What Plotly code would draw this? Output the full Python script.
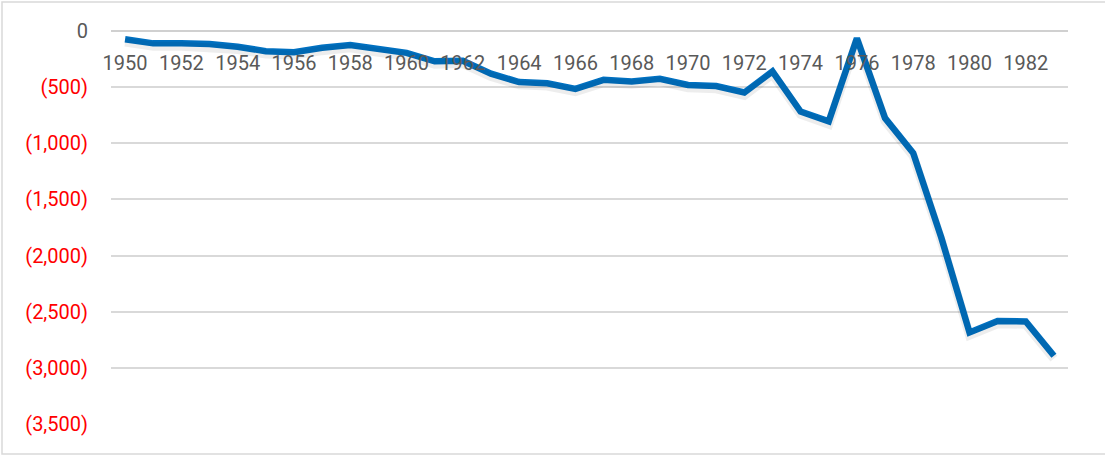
import plotly.graph_objects as go

years = list(range(1950, 1984))
values = [
    -74, -110, -110, -115, -140, -180, -190, -150, -125, -165,
    -195, -270, -265, -380, -455, -465, -515, -435, -450, -425,
    -480, -490, -548, -360, -717, -805, -65, -776, -1087, -1841,
    -2685, -2582, -2587, -2892,
]
y_ticks = [0, -500, -1000, -1500, -2000, -2500, -3000, -3500]


def fmt(v):
    if v < 0:
        return '<span style="color:#FF0000">({:,})</span>'.format(-v)
    return "{:,}".format(v)


FONT = "Roboto, Calibri, sans-serif"

fig = go.Figure()

# soft shadow under the line (same data, drawn on an axis shifted a few px)
fig.add_trace(
    go.Scatter(
        x=years,
        y=values,
        mode="lines",
        yaxis="y2",
        line=dict(color="rgba(0,0,0,0.07)", width=9),
        hoverinfo="skip",
        showlegend=False,
    )
)
fig.add_trace(
    go.Scatter(
        x=years,
        y=values,
        mode="lines",
        line=dict(color="#0070C0", width=6.5),
        showlegend=False,
    )
)

fig.update_layout(
    width=1105,
    height=456,
    margin=dict(l=111, r=37, t=31, b=32, autoexpand=False),
    paper_bgcolor="white",
    plot_bgcolor="white",
    font=dict(family=FONT, size=20, color="#595959"),
    xaxis=dict(
        range=[1949.5, 1983.5],
        anchor="free",
        position=1,
        side="bottom",
        tickmode="linear",
        tick0=1950,
        dtick=2,
        ticklabelstandoff=18,
        ticks="",
        showgrid=False,
        zeroline=False,
        showline=False,
        automargin=False,
        tickfont=dict(family=FONT, size=20, color="#595959"),
    ),
    yaxis=dict(
        range=[-3500, 0],
        tickmode="array",
        tickvals=y_ticks,
        ticktext=[fmt(v) for v in y_ticks],
        showgrid=True,
        gridcolor="#D9D9D9",
        gridwidth=1.5,
        zeroline=True,
        zerolinecolor="#D0D0D0",
        zerolinewidth=2,
        ticks="",
        ticklabelstandoff=22,
        automargin=False,
        tickfont=dict(family=FONT, size=20, color="#595959"),
    ),
    yaxis2=dict(
        range=[-3500 + 25, 0 + 25],
        overlaying="y",
        visible=False,
    ),
    shapes=[
        dict(
            type="rect",
            xref="paper",
            yref="paper",
            x0=-109 / 957,
            x1=1035 / 957,
            y0=-30 / 393,
            y1=1 + 29 / 393,
            line=dict(color="#D9D9D9", width=1.5),
            layer="below",
        )
    ],
)

fig.write_html(
    "out.html",
    config=dict(displayModeBar=False),
    post_script="document.body.style.margin='0';",
)
